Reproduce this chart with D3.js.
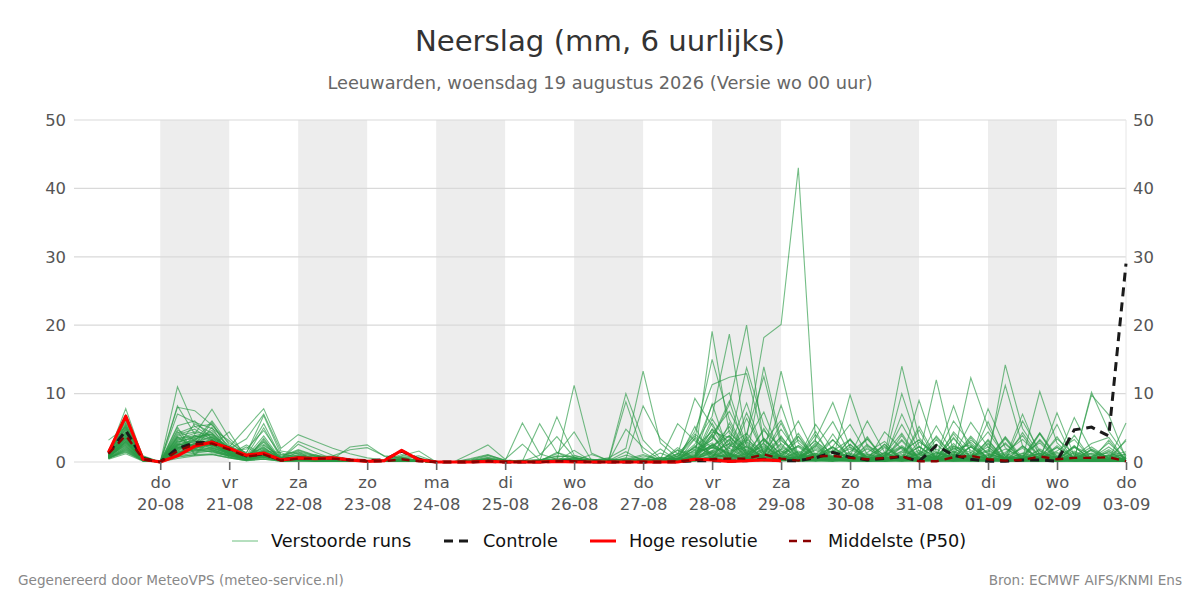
<!DOCTYPE html>
<html>
<head>
<meta charset="utf-8">
<script src="https://cdn.jsdelivr.net/npm/d3@7"></script>
<style>
  html, body { margin: 0; background: #fff; }
  svg { display: block; font-family: "DejaVu Sans", sans-serif; }
</style>
</head>
<body>
<svg id="chart" width="1200" height="600"></svg>
<script>
// tick positions are in 6-hour steps counted from the first forecast value (19-08 06:00)
const dayTicks = [3, 7, 11, 15, 19, 23, 27, 31, 35, 39, 43, 47, 51, 55, 59];
const dayNames = ['do', 'vr', 'za', 'zo', 'ma', 'di', 'wo', 'do', 'vr', 'za', 'zo', 'ma', 'di', 'wo', 'do'];
const dayDates = ['20-08', '21-08', '22-08', '23-08', '24-08', '25-08', '26-08', '27-08', '28-08', '29-08', '30-08', '31-08', '01-09', '02-09', '03-09'];
const yTicks = [0, 10, 20, 30, 40, 50];

const control = [1.3,4.6,.5,0,2,2.8,2.9,2,.9,1.2, .3,.6,.5,.6,.3,.2,.3,1.6,.4,0, 0,0,.1,0,0,0,.1,.1,0,0, 0,0,0,0,.2,.2,.1,.2,.4,.2, .2,.6,1.4,.7,.3,.5,.8,.1,2.4,1, .4,.1,.1,.3,.3,.1,4.7,5.1,3.8,29];
const hires = [1.4,6.7,.4,0,.9,2.3,2.9,2,1,1.3, .3,.6,.5,.6,.3,.1,.2,1.7,.3,0, 0,0,.1,0,0,0,.1,0,0,0, 0,0,0,0,.4,.3,.1,.2,.3,.2];
const median = [1.2,3.9,.4,0,1.6,2.6,2.7,1.8,.8,1.1, .2,.5,.5,.5,.3,.1,.1,.4,.1,0, 0,0,.1,0,0,0,.1,.1,0,0, 0,0,0,.1,.3,.4,.5,.5,1.1,.5, .2,.8,.9,.6,.4,.6,.8,.1,.1,.7, .9,.4,.2,.3,.8,.4,.6,.6,.7,.1];

const runs = [
  [1.2,7.8,.6,0,2.3,3.4,4.1,1.8,.6,.9, .4,.9,.5,.3,.2,.1,.2,.6,.3,0, 0,.1,.3,.1,0,.2,1.2,4.4,.3,.1, .6,.2,.1,.8,4.5,11.3,12.4,12.9,3.1,1.2, .4,2.1,.6,1.3,.4,.9,2.2,.5,1.1,2.4, .8,3.1,.5,1.2,2.8,.3,1.4,.6,2.2,.4],
  [3.2,5.1,.8,0,11,5.2,3.6,2.2,5,7.8, 2,4,3,2,1.2,.6,.3,.4,.2,0, 0,.5,1.1,.2,5.7,1.2,.4,.3,.1,.2, .4,1.1,.3,.5,1.2,2.4,3.8,1.2,4.6,2.1, 1,.6,2.3,5.5,1.1,.4,1.6,3.2,.7,1.9, 2.5,.6,1.4,3.3,.9,2.1,.5,1.8,.6,3.1],
  [.8,6.2,.4,0,8.2,4.1,7.7,3.5,1.1,2, .6,1.3,.8,.4,2.2,2.5,.8,.6,.2,0, 0,1.2,2.5,.4,2.6,.3,.2,.6,.2,.1, 1,.4,.2,1.8,.6,19.1,4.2,2.1,.8,3.3, .6,1.2,.5,.3,2.4,1.1,.6,.2,3.8,.9, 1.3,4.4,.8,2,.5,1.6,3.3,.4,.9,1.5],
  [1,4.2,.5,0,8,7.5,5.4,2.8,1.3,6.8, 1.1,.8,.6,.3,.1,.2,.1,.9,1.6,0, 0,.2,.4,.1,.1,5.6,1.4,.2,.4,.2, .3,.1,.6,.2,3.4,15,6.2,1.4,2.2,.9, 3.2,.8,1.7,.4,.6,2.6,.3,1.2,.5,4.1, .7,1.5,11.2,2.4,.3,.8,2.2,1.1,.2,.6],
  [.6,3.1,.3,0,7,5.8,4.9,3.1,.9,5, .5,3,2,1,.3,.1,.2,.3,.1,0, 0,.3,.9,.2,.1,.2,6.6,1,.3,.5, .2,.4,.2,1.1,9.3,5.3,2,8.6,1.3,.4, 1.6,.5,3.2,.9,.4,1.3,.2,2.9,1.4,.6, 3.8,1.1,.6,.3,1.9,.4,.8,2.7,3.6,.2],
  [.9,2.4,.2,0,5.3,6,3.4,1.9,3.4,7, 1.6,1.2,.4,.2,.1,.1,.2,.5,.3,0, 0,.1,.2,.1,.1,1,3.7,.7,.2,.1, 4.8,2.1,.3,.5,2.6,6.7,18.7,3,1.1,.3, 2.4,1.1,.3,2.2,.8,.2,7,1.6,.3,.9, 5.8,2.2,.4,1.3,.6,3.4,1.2,.3,1.1,.8],
  [1.4,4.9,.7,0,4.7,3.1,6,2.5,.8,3.8, .4,2.6,1.4,.5,.2,.1,.1,.2,.1,0, 0,.1,.6,.1,.3,.1,.2,11.2,1.3,.2, 8.8,1.4,.1,.3,1.8,3.2,8.4,20,2.6,.7, .3,3.4,8.7,2.1,.7,.4,1.5,.9,12,1.4, .3,.9,2.6,.5,1.3,.7,.2,1.9,.6,1.1],
  [.7,2.8,.3,0,4.2,5.2,5.5,2,.5,2.4, .8,1.8,1,.6,.3,.1,.3,.8,.6,0, 0,.2,.7,.2,.2,.3,.8,.9,.4,.3, 10,3.2,.5,.2,.9,1.5,2.6,13.8,5.4,1.6, .4,1.3,.7,.5,1.9,.6,3.1,.4,.8,8.2, 1.2,.4,1.1,3.9,.3,.7,1.6,.5,.4,.3],
  [1.1,5.6,.5,0,3.8,4.4,3.9,1.6,1.9,4.6, 1,1.5,.9,.7,.4,.2,.3,1.1,.5,0, 0,.4,1,.3,.1,.4,.3,.3,.2,.6, 2,13.3,2.8,.6,.3,2.2,1.3,3.5,18.2,20.1, 43,3,1.2,.8,.5,1,2.4,.7,.3,1.6, .5,2.8,.3,.6,1.2,.2,.9,.4,1.5,.2],
  [.5,1.8,.2,0,3.1,2.4,2.8,1.4,.4,1.7, .3,1.1,.7,.9,1.8,2.1,.9,.7,.1,0, 0,.1,.3,.1,.1,.2,.4,.6,.1,.1, .5,8.2,3.4,1.2,.5,8.5,1.1,.4,13.9,3.1, 1.2,.6,.4,9.8,2.3,.6,.4,1.1,2.6,.5, .9,1.6,.6,.3,.7,1.4,.3,10.2,4.5,.9],
  [1.6,6.9,.9,0,2.8,3.8,2.9,1.7,.7,1.2, .5,.7,.3,.4,.2,.1,.2,.4,.2,0, 0,.2,.5,.1,.2,.1,.6,.2,1.1,.3, .2,.9,.4,5.6,3.1,1.2,.7,4.1,12.5,2.4, .6,5.5,1.8,.4,.2,.8,14,3.6,.6,1.1, .4,.7,1.9,.8,.3,2.4,.6,1.3,.8,.3],
  [.4,1.2,.1,0,2.2,1.9,3.3,1.1,.3,1,.2, .4,.2,.1,.1,.1,.1,.3,.1,0, 0,.1,.1,.1,.1,.1,.3,.5,.2,.1, .4,.2,1.3,.4,2.2,4.4,3.6,1.7,.9,13.3, 2.8,.7,.5,.9,6,1.4,.3,9,1.5,.7, .3,1.2,.4,.6,1.7,.2,.5,9.8,6.9,.5],
  [.8,3.5,.4,0,1.8,2.7,2.1,1.3,.6,2.9, .2,.5,.4,.2,.1,.1,.1,.2,.1,0, 0,.1,.2,.1,.1,.1,.2,.1,.3,.1, .3,.1,.5,1.2,1.9,8.3,10.1,2.3,.6,8.3, 1.1,.4,1.6,3.3,.6,.3,.9,.5,.8,6, 2.6,.6,.3,1,.4,.9,.3,.7,2.8,.4],
  [1.3,5.3,.6,0,1.2,1.8,1.5,.9,.5,.8, .3,.4,.3,.2,.2,.1,.1,.3,.1,0, 0,.1,.1,.1,.2,.3,.9,.7,.1,.4, .2,.6,.2,.9,1.5,2.8,.8,7.2,1.3,3.6, .7,2.3,5.9,1.1,.3,1.2,4.2,.4,1.3,.6, .2,.5,14.2,4.9,1.1,.6,.4,.8,.3,.6],
  [.6,2.2,.3,0,2.6,3.2,4.6,2.3,1.4,5.6, .7,1,.6,.3,.1,.1,.2,.4,.2,0, 0,.1,.4,.1,.1,.1,.3,.2,.1,.2, .1,.4,.1,.6,4.1,2.1,5.2,.9,3.4,1.2, 3.8,.6,.3,.7,1.4,3,.5,1.2,3.6,.8, 12.3,5.1,.8,.4,.6,1.2,.5,.2,.9,.3],
  [1,4.1,.4,0,3.5,2.2,2.6,1.2,.4,1.5, .4,.8,.5,.2,.1,.1,.1,.1,.1,0, 0,.1,.2,.1,.1,.2,.1,.4,.2,.1, .3,.2,.7,.3,1.1,4.8,1.2,.5,2.9,6.1, .8,1.7,.4,.6,.9,.4,10,2.3,.6,3.4, .7,1.8,.5,7,.9,.3,2.1,.6,.4,.7],
  [.9,3.3,.2,0,1.5,3.9,3.1,1.8,.7,3.2, .5,.6,.4,.3,.1,.1,.1,.6,.9,0, 0,.2,.3,.1,.1,.1,.2,.3,.1,.1, .2,.1,.3,.2,.8,6.3,2.4,1.6,.4,1.8, 6,.9,.6,.2,1.1,.6,.3,.8,1.9,.4, 1.1,.3,.7,.5,10.3,2.8,.4,1.2,.3,5.7],
  [1.5,6.1,.7,0,4,4.8,3.2,1.5,.6,1.9, .6,.7,.4,.2,.2,.1,.1,.2,.2,0, 0,.1,.2,.2,.1,.1,.1,.2,.1,.3, .1,.3,.2,.4,.6,3.4,8.9,1.3,.5,1.1, 2.4,.5,.9,.4,.3,2.1,.7,.5,.2,1.3, 2.9,.5,.2,6,1.6,.4,6.5,1.6,.5,1.2],
  [.5,2,.2,0,2.4,5.6,4.2,1.8,.3,1.6, .6,1.7,.9,.4,.3,.1,.1,.4,.1,0, 0,.1,.5,.1,.1,.1,.1,.2,.1,.1, .1,.2,.1,.3,.4,1.6,3.9,.7,1.9,.5, 1.4,.3,.6,2.6,.4,.2,.5,1.7,.4,.9, .3,7.8,2.1,.3,.7,.2,1.1,.4,.2,.2],
  [1.2,4.4,.4,0,2.4,2.9,3.7,2.1,.9,2.2, .4,.6,.3,.3,.2,.1,.1,.3,.1,0, 0,.1,.3,.1,.1,.1,.1,.2,.3,.1, .1,.1,.4,.5,1.4,2.2,1.1,3.1,7.3,.8, .3,.7,2.2,.5,1.2,.7,3.3,.6,.2,2, .6,.2,.9,.4,.3,7.2,.9,.5,1.8,.4],
  [.7,2.6,.3,0,5.1,1.2,3.7,1,.4,1.3, .3,1.5,.2,.2,.1,.1,.1,.2,.1,0, 0,.1,.1,.1,.1,.1,1.4,.6,.1,.1, .2,.1,.2,.3,.7,4.1,.5,6.4,1.2,.6, 4.2,.5,.3,1.5,3.3,.8,.4,5.2,.7,2.3, 1.4,.4,3.6,.2,.9,5.5,.2,.3,1.6,.1],
  [1.1,3.7,.5,0,3.7,2.1,5.1,1.1,2.5,.9, .2,.4,1.1,.1,.1,.1,.1,.2,.1,0, 0,.1,.2,.1,.1,.1,.1,1.7,.1,.1, .1,.1,1.9,.2,5.2,.3,2.3,4.2,.9,5.7, .5,4,.7,.3,2.6,.2,1.3,3.3,.4,3.6, .4,5.9,.2,.8,3.1,.4,.7,2.2,.5,.2],
  [.6,1.5,.2,0,1.9,3.3,2.3,4.4,.5,1.1, .2,.3,.2,.1,.1,.1,.1,.1,.1,0, 0,.1,.1,.1,.1,.1,.2,.3,.1,.2, 1.5,.1,.1,2.1,.5,5.7,.9,3.3,1.4,4.8, 1.2,3.1,.5,.8,.2,4.4,1.9,.2,.5,2.7, .2,.4,3.7,.6,4.3,.8,.3,1.7,.2,3.3],
  [1.3,5,.6,0,4.5,1,3.3,.7,.2,3.5, .1,.2,.8,.1,.1,.1,.1,.1,.1,0, 0,.1,.4,.1,.1,.2,.1,.1,.2,.1, .2,.3,.1,1.2,3.8,.8,2,.6,4.9,.3, .9,.2,4.1,.4,.8,2.3,.2,.6,5.3,1.2, .3,2.6,.2,2.4,.5,.3,3.9,.4,.6,.1],
  [.9,3,.3,0,3,3.6,4.3,1.9,.8,3, .3,.6,.4,.2,.1,.1,.1,.2,.1,0, 0,.1,.2,.1,.1,.1,.1,.1,.1,.1, .1,.2,.3,.4,.9,4.1,7.4,2.6,.5,1.9, .4,1.1,3.3,.5,.2,.9,5.5,1.1,.2,4.4, 1.7,.3,.5,.2,4.1,.6,.2,.8,.3,.2],
  [1.7,5.8,.8,0,2,2.5,5.8,1.5,.6,1.4, .3,.5,.3,.2,.1,.1,.1,.1,.1,0, 0,.1,.1,.1,.1,.1,.1,.2,.1,.1, .3,.1,.2,.8,3.5,.3,5.7,1.2,.4,3.8, .3,.9,2.2,.4,3.7,.2,.6,1.4,.3,.5, 3.2,1.3,.4,4.3,.6,.2,2.4,.2,.3,.1],
  [.8,2.3,.2,0,1.3,2,1.4,.9,2.2,.7, .2,.2,.2,.1,.1,.1,.1,.1,.1,0, 0,.1,.1,.1,.1,.1,.1,.1,.1,.1, .1,.1,.1,.3,2.2,1.2,.5,.8,2.7,.3, 3.7,.2,.6,.2,.4,.5,2.2,.3,.9,.2, 3.6,.2,.3,.7,.2,.4,1.3,.2,3.2,.1],
  [1,3.9,.4,0,2.9,3.5,2.7,1.7,.7,1.6, 1.4,.4,.3,.2,.1,.1,.1,.3,.1,0, 0,.1,.2,.1,.1,.1,.1,.1,.1,.1, .1,.1,.2,.2,.6,4.8,2.9,.9,3.3,.6, .5,4.5,.3,1.1,.2,.3,.8,2.2,.6,1.1, .4,.3,2.8,.3,.5,3.7,.2,.6,.4,.2],
  [.6,1.9,.3,0,1.1,1.6,2,1.2,.3,.8, .2,.3,.2,.1,.1,.1,.1,.1,.1,0, 0,.1,.1,.1,.1,.1,.1,.1,.1,.1, .1,.1,.1,.1,.3,.7,3.4,.4,1.1,.2, .3,2.6,.2,.3,3.5,.1,.3,4.7,.2,.3, .8,2.2,.1,.4,1.3,.2,.5,.1,.3,.1],
  [1.4,4.7,.5,0,1.4,2.3,2.5,1.3,.6,1,.3, .4,.2,.1,.1,.1,.1,.2,.1,0, 0,.1,.1,.1,.1,.1,.1,.2,.1,.1, .1,.1,.1,.2,2.4,1,.6,1.9,.5,1.3, 2.2,.4,.8,3.2,.3,.6,.2,.4,1.4,.2, 2.3,.5,.2,.6,4.2,.3,.2,.4,.2,.1],
  [.7,2.9,.3,0,.5,.9,1.1,.6,.2,.4, .1,.2,.1,.1,.1,.1,.1,.1,.1,0, 0,.1,.1,.1,.1,.1,.1,.1,.1,.1, .1,.1,.1,.1,.2,2.5,.3,3.7,.2,.4, .1,.3,2.1,.2,.1,.3,2.1,.2,.3,.1, .2,3.3,.1,.2,.1,2.2,.1,.2,.1,.1],
  [1.1,4.3,.4,0,3.3,4.2,3.5,2,.8,2.6, .5,.7,.4,.3,.1,.1,.1,.2,.1,0, 0,.1,.3,.1,.1,.1,.2,.2,.1,.1, .2,.1,.2,.5,.7,2.6,1.1,.4,1.7,.6, 1.1,.3,.8,.5,.3,1.4,.5,.2,.7,.9, 2.2,.4,.2,.5,.9,.3,.6,.3,1,.2],
  [.8,3.4,.3,0,1.6,1.7,1.8,1.1,.4,.9, .2,.3,.2,.1,.1,.1,.1,.1,.1,0, 0,.1,.1,.1,.1,.1,.1,.1,.1,.1, .1,.1,.1,.2,.3,3.9,.4,1.3,.3,2.7, .2,.5,.2,3.4,.2,.2,.4,2.3,.2,.5, .3,.2,3.4,.2,.4,.2,2.3,.1,.2,.1],
  [1.2,5.5,.5,0,2.1,2.6,2.4,1.4,.5,1.2, .3,.4,.3,.2,.1,.1,.1,.1,.1,0, 0,.1,.2,.1,.1,.1,.1,.1,.1,.1, .1,.1,.1,.3,.5,1.3,2.7,.3,.9,1.6, .3,2.8,.4,.2,.5,.3,3.9,.2,.4,.3, .6,1,.3,.2,3.3,.5,.2,.3,.4,.1],
  [.5,1.4,.2,0,.9,1.3,1.6,.8,.3,.6, .2,.2,.1,.1,.1,.1,.1,.1,.1,0, 0,.1,.1,.1,.1,.1,.1,.1,.1,.1, .1,.1,.1,.1,.2,.6,1,.2,3.5,.3, .6,.2,.3,.1,.2,.4,.1,.3,.2,2.2, .1,.3,.2,.3,.1,.2,.1,.2,.1,.1],
  [1,3.6,.4,0,2.5,3,3,1.6,.6,1.8, .4,.5,.3,.2,.1,.1,.1,.2,.1,0, 0,.1,.2,.1,.1,.1,.1,.1,.1,.1, .1,.1,.2,.2,.8,3.7,1.6,2.2,.6,.9, .4,1.9,.6,.7,.3,.2,1.1,.5,.3,.6, .4,.7,.2,.9,.4,.2,.8,.3,.2,.2],
  [1.3,4.8,.6,0,1.1,2.8,2,1.2,.4,.7, .2,.4,.2,.1,.1,.1,.1,.1,.1,0, 0,.1,.1,.1,.1,.1,.1,.1,.1,.1, .1,.1,.1,1.7,.3,1.4,.5,2.9,.2,.5, .2,2.4,.3,.3,.2,2.6,.3,.2,.5,.2, 2.3,.2,.6,.2,.2,.3,.4,.2,.3,.1],
  [.9,2.7,.3,0,1.9,2.4,1.8,1,.5,1.1, .3,.3,.2,.1,.1,.1,.1,.1,.1,0, 0,.1,.1,.1,.1,.1,.1,.1,.1,.1, .1,.1,.1,.1,.4,.8,3.3,.6,1.2,.4, .2,.3,.1,2.6,.2,.2,.5,.1,3.3,.4, .2,.4,.1,2.3,.2,.1,.3,.2,.2,.1],
  [.7,2.1,.2,0,.7,1.1,1.2,.7,.3,.5, .1,.2,.1,.1,.1,.1,.1,.1,.1,0, 0,.1,.1,.1,.1,.1,.1,.1,.1,.1, .1,.1,.1,.1,.2,.4,.2,.5,.2,.3, .1,.2,.1,.2,.1,.1,.2,.1,.2,.1, .1,.2,.1,.1,.2,.1,.2,.1,.1,.1],
  [1.5,6.4,.7,0,3.6,3.7,4,1.8,.7,2.1, .4,.6,.4,.2,.1,.1,.1,.3,.1,0, 0,.1,.2,.1,.1,.1,.1,.2,.1,.1, .1,.2,.1,.4,1.7,2,4.6,1,2.4,.5, .8,.3,.9,1.9,.5,.7,.3,.6,.8,1.5, .6,.3,1.2,.4,.7,.2,.5,.9,1.3,.2],
  [.6,1.7,.2,0,1.2,1.5,1.6,.9,.3,.7, .2,.3,.2,.1,.1,.1,.1,.1,.1,0, 0,.1,.1,.1,.1,.1,.1,.1,.1,.1, .1,.1,.1,.2,.2,.6,.3,2.4,.7,.2, .3,.2,.4,.2,2.1,.3,.2,.4,.1,.2, .3,.1,.2,.2,.3,.1,.2,.1,.2,.1],
  [1.1,4,.4,0,2.7,2,2.6,1.5,.6,1.3, .3,.4,.3,.2,.1,.1,.1,.1,.1,0, 0,.1,.1,.1,.1,.1,.1,.1,.1,.1, .1,.1,.1,.3,.6,1.7,.8,.5,1.5,.4, .6,.2,.5,.3,.4,.2,.7,.3,.2,.8, .2,.5,.3,.4,.2,.6,.2,.4,.3,.1],
  [.8,3.2,.3,0,1.5,1.8,2.2,1.2,.5,.8, .2,.3,.2,.1,.1,.1,.1,.1,.1,0, 0,.1,.1,.1,.1,.1,.1,.1,.1,.1, .1,.1,.1,.1,.3,.9,.4,.7,.3,1, .2,.6,.2,.3,.1,.4,.2,.3,.4,.2, .4,.2,.3,.1,.4,.2,.3,.2,.2,.1],
  [1,3.8,.4,0,2.2,2.7,2.3,1.3,.5,1, .3,.4,.2,.1,.1,.1,.1,.1,.1,0, 0,.1,.1,.1,.1,.1,.1,.1,.1,.1, .1,.1,.1,.2,.5,1.1,.6,1.5,.4,.7, .3,.5,.4,.2,.6,.2,.3,.5,.2,.3, .5,.2,.4,.3,.2,.3,.2,.3,.2,.1],
  [.9,2.5,.2,0,1.7,2.2,1.9,1,.4,.9, .2,.3,.2,.1,.1,.1,.1,.1,.1,0, 0,.1,.1,.1,.1,.1,.1,.1,.1,.1, .1,.1,.1,.1,.2,.7,.3,.9,.2,.5, .2,.3,.2,.4,.1,.2,.3,.1,.3,.2, .2,.3,.1,.2,.3,.1,.2,.1,.1,.1],
  [1.3,5.2,.6,0,3.2,3.9,3.3,1.6,.7,1.5, .4,.5,.3,.2,.1,.1,.1,.2,.1,0, 0,.1,.2,.1,.1,.1,.1,.1,.1,.1, .1,.1,.1,.3,1,2.5,1.3,.6,2,.8, .4,1,.5,.6,.3,.5,.8,.4,.6,.5, 1,.3,.7,.4,.6,.3,.4,.6,.5,.2],
  [.6,1.6,.2,0,.8,1,1.1,.6,.2,.4, .1,.2,.1,.1,.1,.1,.1,.1,.1,0, 0,.1,.1,.1,.1,.1,.1,.1,.1,.1, .1,.1,.1,.1,.1,.3,.2,.3,.1,.2, .1,.1,.1,.1,.1,.1,.1,.1,.1,.1, .1,.1,.1,.1,.1,.1,.1,.1,.1,.1],
  [1.2,4.5,.5,0,2,3.1,2.8,1.5,.6,1.1, .3,.4,.3,.2,.1,.1,.1,.1,.1,0, 0,.1,.1,.1,.1,.1,.1,.1,.1,.1, .1,.1,.1,.2,.4,1.5,.7,1.1,.3,.6, .2,.7,.3,.4,.2,.3,.4,.2,.5,.3, .7,.2,.4,.2,.5,.2,.3,.2,.3,.1],
  [.8,3,.3,0,1.3,1.9,1.7,1,.4,.8, .2,.3,.2,.1,.1,.1,.1,.1,.1,0, 0,.1,.1,.1,.1,.1,.1,.1,.1,.1, .1,.1,.1,.1,.3,.6,1.2,.3,.8,.4, .3,.2,.6,.1,.3,.2,.2,.4,.1,.3, .2,.1,.3,.2,.1,.2,.2,.1,.1,.1],
  [1,3.5,.4,0,2.6,2.3,2.5,1.3,.5,1.2, .3,.3,.2,.1,.1,.1,.1,.1,.1,0, 0,.1,.1,.1,.1,.1,.1,.1,.1,.1, .1,.1,.1,.2,.6,2.1,.9,.4,1,.3, .5,.3,.2,.5,.3,.1,.6,.2,.3,.4, .3,.4,.2,.3,.2,.4,.1,.2,.2,.1]
];

const legendLabels = ['Verstoorde runs', 'Controle', 'Hoge resolutie', 'Middelste (P50)'];

const svg = d3.select('#chart');

const plotLeft = 74, plotRight = 1126, plotTop = 120, plotBottom = 462;
const x = d3.scaleLinear().domain([-2, 59]).range([plotLeft, plotRight]);
const y = d3.scaleLinear().domain([0, 50]).range([plotBottom, plotTop]);

// Titles
svg.append('text').attr('x', 600).attr('y', 51).attr('text-anchor', 'middle')
  .attr('font-size', 29.2).attr('fill', '#333').text('Neerslag (mm, 6 uurlijks)');
svg.append('text').attr('x', 600).attr('y', 89).attr('text-anchor', 'middle')
  .attr('font-size', 17.8).attr('fill', '#666').text('Leeuwarden, woensdag 19 augustus 2026 (Versie wo 00 uur)');

// Shaded alternate days
const bandStarts = dayTicks.filter((d, i) => i % 2 === 0 && i < dayTicks.length - 1);
svg.append('g').selectAll('rect').data(bandStarts).join('rect')
  .attr('x', d => x(d))
  .attr('y', plotTop)
  .attr('width', d => x(d + 4) - x(d))
  .attr('height', plotBottom - plotTop)
  .attr('fill', '#ededed');

// Gridlines
svg.append('g').selectAll('line').data(yTicks).join('line')
  .attr('x1', plotLeft).attr('x2', plotRight)
  .attr('y1', d => y(d)).attr('y2', d => y(d))
  .attr('stroke', '#d9d9d9').attr('stroke-width', 1.2);

svg.append('line').attr('x1', plotRight).attr('x2', plotRight).attr('y1', plotTop).attr('y2', plotBottom)
  .attr('stroke', '#e6e6e6').attr('stroke-width', 1);

// Series
const line = d3.line().x((d, i) => x(i)).y(d => y(d));

svg.append('g').selectAll('path').data(runs).join('path')
  .attr('d', line).attr('fill', 'none')
  .attr('stroke', '#2a9a45').attr('stroke-opacity', 0.65).attr('stroke-width', 1.1);

svg.append('path').datum(control).attr('d', line).attr('fill', 'none')
  .attr('stroke', '#1a1a1a').attr('stroke-width', 3).attr('stroke-dasharray', '9,6');
svg.append('path').datum(hires).attr('d', line).attr('fill', 'none')
  .attr('stroke', '#ff0000').attr('stroke-width', 3.2).attr('stroke-linejoin', 'round');
svg.append('path').datum(median).attr('d', line).attr('fill', 'none')
  .attr('stroke', '#8b0000').attr('stroke-width', 2.4).attr('stroke-dasharray', '8,6');

// Axes
const xAxis = d3.axisBottom(x).tickValues(dayTicks).tickSize(8).tickFormat('');
const xG = svg.append('g').attr('transform', `translate(0,${plotBottom})`).call(xAxis);
xG.select('.domain').remove();
xG.selectAll('line').attr('stroke', '#666').attr('stroke-width', 1.6);
xG.selectAll('.tick text').remove();
xG.selectAll('.tick').append('text')
  .attr('fill', '#555').attr('font-size', 16.4).attr('text-anchor', 'middle')
  .attr('font-family', '"DejaVu Sans", sans-serif')
  .each(function (d, i) {
    const t = d3.select(this);
    t.append('tspan').attr('x', 0).attr('y', 26).text(dayNames[i]);
    t.append('tspan').attr('x', 0).attr('y', 48).text(dayDates[i]);
  });

const axisLeft = d3.axisLeft(y).tickValues(yTicks).tickSize(0).tickPadding(8);
const yL = svg.append('g').attr('transform', `translate(${plotLeft},0)`).call(axisLeft);
const axisRight = d3.axisRight(y).tickValues(yTicks).tickSize(0).tickPadding(7);
const yR = svg.append('g').attr('transform', `translate(${plotRight},0)`).call(axisRight);
[yL, yR].forEach(g => {
  g.select('.domain').remove();
  g.selectAll('text').attr('fill', '#555').attr('font-size', 16.4)
    .attr('font-family', '"DejaVu Sans", sans-serif');
});

// Legend
const legendY = 541;
const legendX = [232, 444, 590, 789];
const legendStyle = [
  { stroke: '#6dbf7e', width: 1, dash: null },
  { stroke: '#1a1a1a', width: 3, dash: '9,6' },
  { stroke: '#ff0000', width: 3, dash: null },
  { stroke: '#8b0000', width: 2.4, dash: '8,6' }
];
legendLabels.forEach((label, i) => {
  const g = svg.append('g').attr('transform', `translate(${legendX[i]},${legendY})`);
  g.append('line').attr('x1', 0).attr('x2', 26)
    .attr('stroke', legendStyle[i].stroke).attr('stroke-width', legendStyle[i].width)
    .attr('stroke-dasharray', legendStyle[i].dash);
  g.append('text').attr('x', 39).attr('y', 6).attr('font-size', 17.7)
    .attr('fill', '#111').text(label);
});

// Footer
svg.append('text').attr('x', 18).attr('y', 585).attr('font-size', 13.6).attr('fill', '#888')
  .text('Gegenereerd door MeteoVPS (meteo-service.nl)');
svg.append('text').attr('x', 1182).attr('y', 585).attr('text-anchor', 'end').attr('font-size', 13.6).attr('fill', '#888')
  .text('Bron: ECMWF AIFS/KNMI Ens');
</script>
</body>
</html>
